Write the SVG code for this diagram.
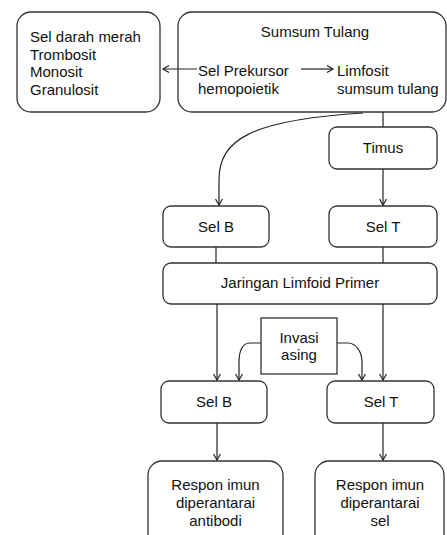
<svg xmlns="http://www.w3.org/2000/svg" width="447" height="535" viewBox="0 0 447 535">
<defs>
<marker id="ah" markerWidth="10" markerHeight="10" refX="7" refY="4" orient="auto" markerUnits="userSpaceOnUse">
<path d="M1,0.5 L7,4 L1,7.5" fill="none" stroke="#222" stroke-width="1.2"/>
</marker>
</defs>
<style>
.box{fill:#fff;stroke:#333;stroke-width:1.3}
.t{font-family:"Liberation Sans",Arial,sans-serif;font-size:15px;fill:#111}
.c{text-anchor:middle}
.ln{fill:none;stroke:#222;stroke-width:1.2}
.ar{fill:none;stroke:#222;stroke-width:1.2;marker-end:url(#ah)}
</style>
<rect width="447" height="535" fill="#fff"/>
<g id="sel-darah">
<rect class="box" x="17" y="12" width="143" height="100" rx="14"/>
<text class="t" x="30" y="42">Sel darah merah</text>
<text class="t" x="30" y="59.5">Trombosit</text>
<text class="t" x="30" y="77">Monosit</text>
<text class="t" x="30" y="94.5">Granulosit</text>
</g>
<g id="sumsum">
<rect class="box" x="178" y="12" width="268" height="100" rx="14"/>
<text class="t c" x="315" y="37">Sumsum Tulang</text>
<text class="t" x="198" y="76">Sel Prekursor</text>
<text class="t" x="198" y="94">hemopoietik</text>
<text class="t" x="337" y="76">Limfosit</text>
<text class="t" x="337" y="94">sumsum tulang</text>
</g>
<g id="timus">
<rect class="box" x="329" y="127" width="108" height="42" rx="8"/>
<text class="t c" x="383" y="153">Timus</text>
</g>
<g id="selb1">
<rect class="box" x="163" y="206" width="106" height="41" rx="8"/>
<text class="t c" x="216" y="232">Sel B</text>
</g>
<g id="selt1">
<rect class="box" x="329" y="206" width="108" height="41" rx="8"/>
<text class="t c" x="383" y="232">Sel T</text>
</g>
<g id="jaringan">
<rect class="box" x="163" y="263" width="274" height="41" rx="8"/>
<text class="t c" x="300" y="288">Jaringan Limfoid Primer</text>
</g>
<g id="invasi">
<rect class="box" x="261" y="318" width="76" height="56" rx="0"/>
<text class="t c" x="299" y="343">Invasi</text>
<text class="t c" x="299" y="360">asing</text>
</g>
<g id="selb2">
<rect class="box" x="161" y="381" width="106" height="42" rx="8"/>
<text class="t c" x="214" y="407">Sel B</text>
</g>
<g id="selt2">
<rect class="box" x="327" y="381" width="107" height="42" rx="8"/>
<text class="t c" x="381" y="407">Sel T</text>
</g>
<g id="respon-antibodi">
<rect class="box" x="148" y="461" width="135" height="90" rx="14"/>
<text class="t c" x="215.5" y="490">Respon imun</text>
<text class="t c" x="215.5" y="508">diperantarai</text>
<text class="t c" x="215.5" y="526">antibodi</text>
</g>
<g id="respon-sel">
<rect class="box" x="315" y="461" width="129" height="90" rx="14"/>
<text class="t c" x="380" y="490">Respon imun</text>
<text class="t c" x="380" y="508">diperantarai</text>
<text class="t c" x="380" y="526">sel</text>
</g>
<g id="connectors">
<line class="ar" x1="197" y1="69" x2="163" y2="69"/>
<line class="ar" x1="301" y1="69" x2="333" y2="69"/>
<path class="ar" d="M363,113 C250,120 219,140 219,180 L219,205"/>
<line class="ln" x1="383" y1="112" x2="383" y2="127"/>
<line class="ar" x1="383" y1="169" x2="383" y2="205"/>
<line class="ln" x1="216" y1="247" x2="216" y2="263"/>
<line class="ln" x1="383" y1="247" x2="383" y2="263"/>
<line class="ar" x1="217" y1="304" x2="217" y2="380"/>
<line class="ar" x1="383" y1="304" x2="383" y2="380"/>
<path class="ar" d="M261,343 L250,343 C242,343 239,352 239,362 L239,380"/>
<path class="ar" d="M337,343 L348,343 C356,343 362,352 362,362 L362,380"/>
<line class="ar" x1="217" y1="423" x2="217" y2="460"/>
<line class="ar" x1="383" y1="423" x2="383" y2="460"/>
</g>
</svg>
